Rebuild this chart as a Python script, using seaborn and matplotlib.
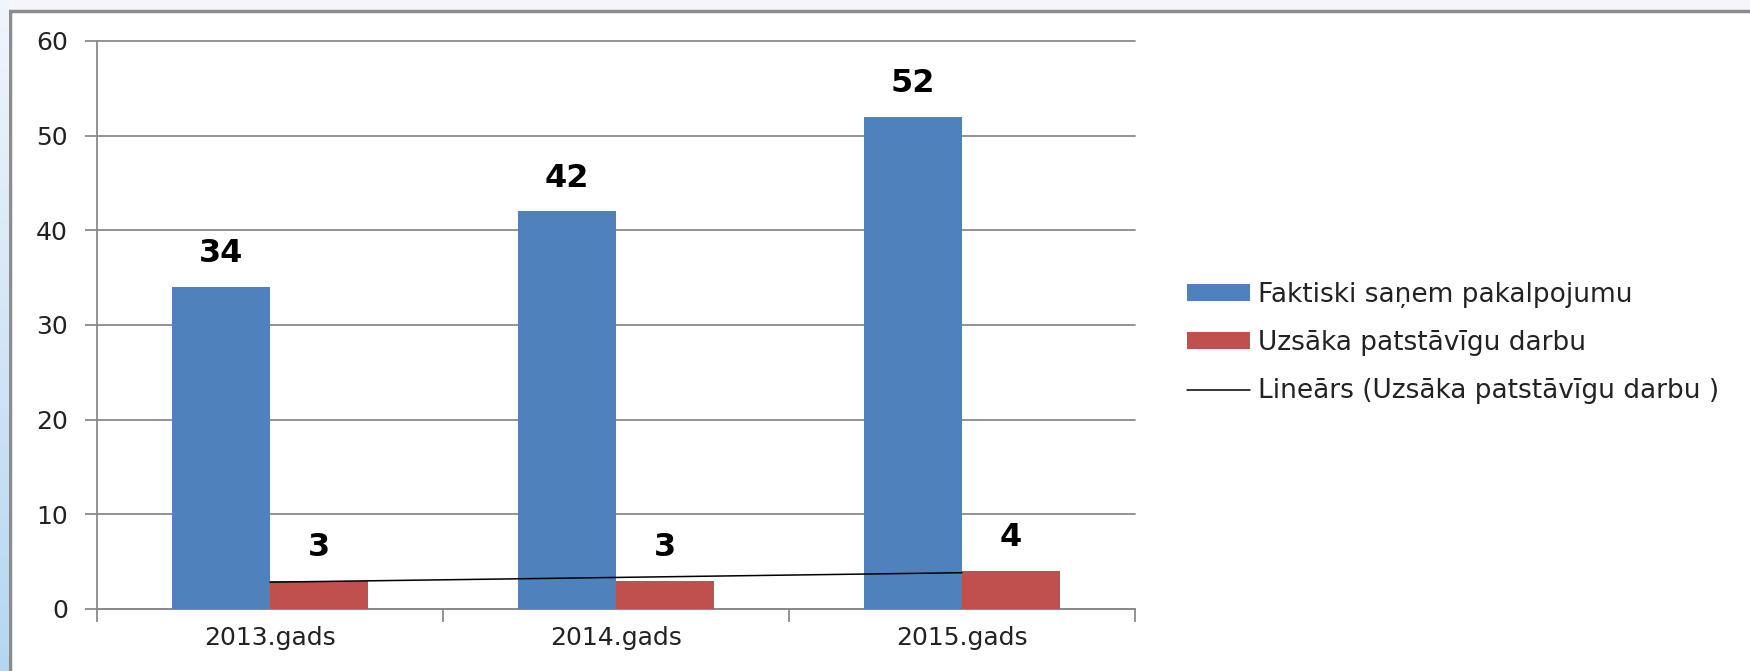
import numpy as np
import pandas as pd
import matplotlib
matplotlib.use("Agg")
import matplotlib.pyplot as plt
import seaborn as sns
from matplotlib.patches import Patch, Rectangle
from matplotlib.lines import Line2D

# ---- data ----
years = ["2013.gads", "2014.gads", "2015.gads"]
received = [34, 42, 52]
started = [3, 3, 4]
series_names = ["Faktiski saņem pakalpojumu", "Uzsāka patstāvīgu darbu"]
trend_name = "Lineārs (Uzsāka patstāvīgu darbu )"
yticks = [0, 10, 20, 30, 40, 50, 60]

blue = "#4F81BD"
red = "#C0504D"

df = pd.DataFrame({
    "year": years * 2,
    "value": received + started,
    "series": [series_names[0]] * 3 + [series_names[1]] * 3,
})

sns.set_theme(style="white")
plt.rcParams["font.family"] = ["DejaVu Sans"]

fig = plt.figure(figsize=(17.5, 6.71), dpi=100)
fig.patch.set_facecolor("#F4F6F9")

# white chart frame with gray border (behind everything)
frame = Rectangle((10 / 1750, -0.05), 1.1, 1 - 11 / 671 + 0.05, transform=fig.transFigure,
                  facecolor="white", edgecolor="#8C8C8C", linewidth=2.5, zorder=-10)
fig.patches.append(frame)

# light blue strip on the left edge
strip = fig.add_axes([0, 0, 9 / 1750, 1])
grad = np.linspace(0, 1, 100).reshape(-1, 1)
strip.imshow(grad, aspect="auto", cmap=matplotlib.colors.LinearSegmentedColormap.from_list(
    "s", ["#F0F5FB", "#B5D6F2"]), origin="upper")
strip.axis("off")

ax = fig.add_axes([97 / 1750, 62 / 671, (1135 - 97) / 1750, (609 - 41) / 671])
ax.set_facecolor("none")

sns.barplot(data=df, x="year", y="value", hue="series", order=years,
            hue_order=series_names, palette=[blue, red], saturation=1,
            width=0.565, linewidth=0, ax=ax, legend=False, zorder=3)

# linear trend of the red series
sns.regplot(x=np.arange(len(started)), y=started, scatter=False, ci=None,
            truncate=True, color="black", line_kws={"linewidth": 1.1, "zorder": 4}, ax=ax)

# value labels
for cont in ax.containers:
    for bar in cont:
        h = bar.get_height()
        ax.annotate(f"{h:.0f}", (bar.get_x() + bar.get_width() / 2, h),
                    xytext=(0, 24), textcoords="offset points",
                    ha="center", va="center", fontsize=23, fontweight="bold",
                    color="black", zorder=5)

ax.set_xlim(-0.5, 2.5)
ax.set_ylim(0, 60)
ax.set_yticks(yticks)
ax.yaxis.grid(True, color="#8A8A8A", linewidth=1.3, zorder=0)
for gl in ax.get_ygridlines():
    gl.set_clip_on(False)
ax.set_axisbelow(True)
for s in ["top", "right"]:
    ax.spines[s].set_visible(False)
ax.spines["left"].set_color("#8A8A8A")
ax.spines["bottom"].set_color("#8A8A8A")
ax.spines["left"].set_linewidth(1.3)
ax.spines["bottom"].set_linewidth(1.3)

ax.set_xticks([-0.5, 0.5, 1.5, 2.5], minor=False)
ax.set_xticklabels([])
ax.set_xticks([0, 1, 2], minor=True)
ax.set_xticklabels(years, minor=True)
ax.tick_params(axis="x", which="major", direction="out", length=9, width=1.3,
               color="#8A8A8A", bottom=True)
ax.tick_params(axis="x", which="minor", length=0, labelsize=18, pad=12, colors="#222222")
ax.tick_params(axis="y", direction="out", length=9, width=1.3, color="#8A8A8A",
               left=True, labelsize=18, pad=12, labelcolor="#222222")
ax.set_xlabel("")
ax.set_ylabel("")

handles = [Patch(facecolor=blue, edgecolor="none"),
           Patch(facecolor=red, edgecolor="none"),
           Line2D([0], [0], color="black", linewidth=1.1)]
fig.legend(handles, series_names + [trend_name], loc="center left",
           bbox_to_anchor=(1163 / 1750, 1 - 343 / 671), frameon=False,
           fontsize=19, handlelength=2.4, handleheight=0.6, handletextpad=0.3,
           labelspacing=0.85, labelcolor="#222222")

fig.savefig("out.png", dpi=100, facecolor=fig.get_facecolor())
